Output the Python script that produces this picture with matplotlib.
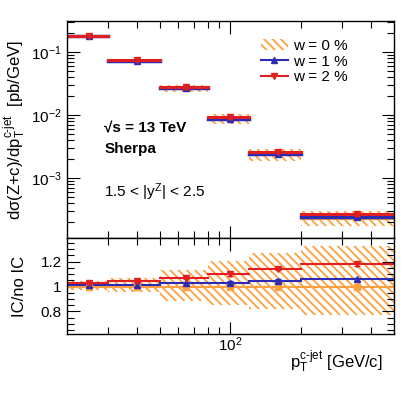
import numpy as np
import matplotlib
matplotlib.use("Agg")
import matplotlib.pyplot as plt
from matplotlib.patches import Patch
from matplotlib.lines import Line2D
from matplotlib.ticker import LogLocator, MultipleLocator, NullFormatter, FixedLocator, FixedFormatter

plt.rcParams['font.family'] = ['Liberation Sans', 'DejaVu Sans']
plt.rcParams['mathtext.fontset'] = 'custom'
plt.rcParams['mathtext.rm'] = 'Liberation Sans'
plt.rcParams['mathtext.it'] = 'Liberation Sans'
plt.rcParams['mathtext.bf'] = 'Liberation Sans:bold'
plt.rcParams['hatch.linewidth'] = 1.3
plt.rcParams['hatch.color'] = '#ffa040'

# pT bins (GeV/c)
bin_edges = [20, 30, 50, 80, 120, 200, 500]
bin_centers = [25, 40, 65, 100, 160, 350]

# cross sections [pb/GeV]
xs_w0 = [0.176, 0.0722, 0.0262, 0.0085, 0.00232, 0.000228]
xs_w1 = [0.178, 0.0731, 0.0269, 0.00877, 0.00243, 0.000241]
xs_w2 = [0.182, 0.0757, 0.0281, 0.00935, 0.00265, 0.000269]

# ratio IC / no IC
ratio_w1 = [1.01, 1.012, 1.025, 1.032, 1.048, 1.058]
ratio_w2 = [1.032, 1.048, 1.072, 1.10, 1.143, 1.18]
ratio_err = [0.012, 0.013, 0.014, 0.014, 0.012, 0.012]
band_lo = [0.974, 0.96, 0.886, 0.854, 0.819, 0.774]
band_hi = [1.045, 1.072, 1.134, 1.208, 1.272, 1.326]

orange = '#ffa040'
blue = '#2b2bb3'
red = '#e02020'
hy = '\u2010'

fig = plt.figure(figsize=(4.15, 3.98), dpi=100)
ax1 = fig.add_axes([0.1607, 0.402, 0.788, 0.545])
ax2 = fig.add_axes([0.1607, 0.161, 0.788, 0.241], sharex=ax1)

edges = np.array(bin_edges)
w0 = np.array(xs_w0)
lo = np.array(band_lo)
hi = np.array(band_hi)

for i in range(len(bin_centers)):
    x0, x1 = edges[i], edges[i + 1]
    # top panel
    ax1.fill_between([x0, x1], w0[i] * lo[i], w0[i] * hi[i], facecolor='none',
                     edgecolor=orange, hatch='\\\\\\\\', linewidth=0)
    ax1.plot([x0, x1], [w0[i], w0[i]], color=orange, lw=1.5)
    ax1.plot([x0, x1], [xs_w1[i], xs_w1[i]], color=blue, lw=2.5)
    ax1.plot([x0, x1], [xs_w2[i], xs_w2[i]], color=red, lw=2.2)
    # ratio panel
    ax2.fill_between([x0, x1], lo[i], hi[i], facecolor='none',
                     edgecolor=orange, hatch='\\\\\\\\', linewidth=0)
    ax2.plot([x0, x1], [1, 1], color=orange, lw=1.5)
    ax2.plot([x0, x1], [ratio_w1[i], ratio_w1[i]], color=blue, lw=1.5)
    ax2.plot([x0, x1], [ratio_w2[i], ratio_w2[i]], color=red, lw=1.5)

xs_err1 = np.array(xs_w1) * 0.06
xs_err2 = np.array(xs_w2) * 0.06
ax1.errorbar(bin_centers, xs_w1, yerr=xs_err1, fmt='^', color=blue, ms=5,
             capsize=2, elinewidth=1.2, zorder=5)
ax1.errorbar(bin_centers, xs_w2, yerr=xs_err2, fmt='v', color=red, ms=5,
             capsize=2, elinewidth=1.2, zorder=6)
ax2.plot(bin_centers, [1] * 6, 's', color=orange, ms=4, zorder=4)
ax2.errorbar(bin_centers, ratio_w1, yerr=ratio_err, fmt='^', color=blue, ms=5,
             capsize=2, elinewidth=1.2, zorder=5)
ax2.errorbar(bin_centers, ratio_w2, yerr=ratio_err, fmt='v', color=red, ms=5,
             capsize=2, elinewidth=1.2, zorder=6)

ax1.set_xscale('log')
ax1.set_yscale('log')
ax1.set_xlim(20, 500)
ax1.set_ylim(1.13e-4, 0.31)
ax2.set_ylim(0.62, 1.39)

ax1.yaxis.set_major_locator(LogLocator(base=10, numticks=10))
ax1.yaxis.set_minor_locator(LogLocator(base=10, subs=np.arange(2, 10), numticks=20))
ax1.yaxis.set_minor_formatter(NullFormatter())
ax2.yaxis.set_major_locator(FixedLocator([0.8, 1.0, 1.2]))
ax2.yaxis.set_major_formatter(FixedFormatter(['0.8', '1', '1.2']))
ax2.yaxis.set_minor_locator(MultipleLocator(0.05))
ax2.xaxis.set_major_locator(FixedLocator([100]))
ax2.xaxis.set_major_formatter(FixedFormatter(['$10^{2}$']))
ax2.xaxis.set_minor_locator(FixedLocator([30, 40, 50, 60, 70, 80, 90, 200, 300, 400]))
ax2.xaxis.set_minor_formatter(NullFormatter())
ax1.tick_params(axis='x', which='both', labelbottom=False)

for ax in (ax1, ax2):
    ax.tick_params(which='both', direction='in', top=True, right=True,
                   labelsize=11, width=0.8)
    ax.tick_params(which='major', length=9)
    ax.tick_params(which='minor', length=5)
    for s in ax.spines.values():
        s.set_linewidth(1.0)
ax2.tick_params(axis='x', pad=1)

ax1.set_ylabel(r'd$\sigma$(Z+c)/dp$_{\mathrm{T}}^{\mathrm{c' + hy + r'jet}}$  [pb/GeV]', fontsize=12, labelpad=2)
ax2.set_ylabel('IC/no IC', fontsize=12, labelpad=10)
ax2.set_xlabel(r'p$_{\mathrm{T}}^{\mathrm{c' + hy + r'jet}}$ [GeV/c]', fontsize=12, loc='right',
               labelpad=-6)
ax2.xaxis.set_label_coords(0.965, -0.16)

ax1.text(0.115, 0.49, '\u221as = 13 TeV', transform=ax1.transAxes, fontsize=11,
         fontweight='bold')
ax1.text(0.115, 0.39, 'Sherpa', transform=ax1.transAxes, fontsize=11, fontweight='bold')
ax1.text(0.115, 0.19, r'1.5 < |y$^{\mathrm{Z}}$| < 2.5', transform=ax1.transAxes, fontsize=11)

handles = [Patch(facecolor='none', edgecolor=orange, hatch='\\\\\\\\', linewidth=0),
           Line2D([], [], color=blue, marker='^', ms=5, lw=1.5),
           Line2D([], [], color=red, marker='v', ms=5, lw=1.5)]
ax1.legend(handles, ['w = 0 %', 'w = 1 %', 'w = 2 %'], loc='upper right',
           bbox_to_anchor=(0.9, 0.98), frameon=False, fontsize=11,
           handlelength=1.8, handletextpad=0.3, labelspacing=0.1)

fig.savefig('out.png', dpi=100)
